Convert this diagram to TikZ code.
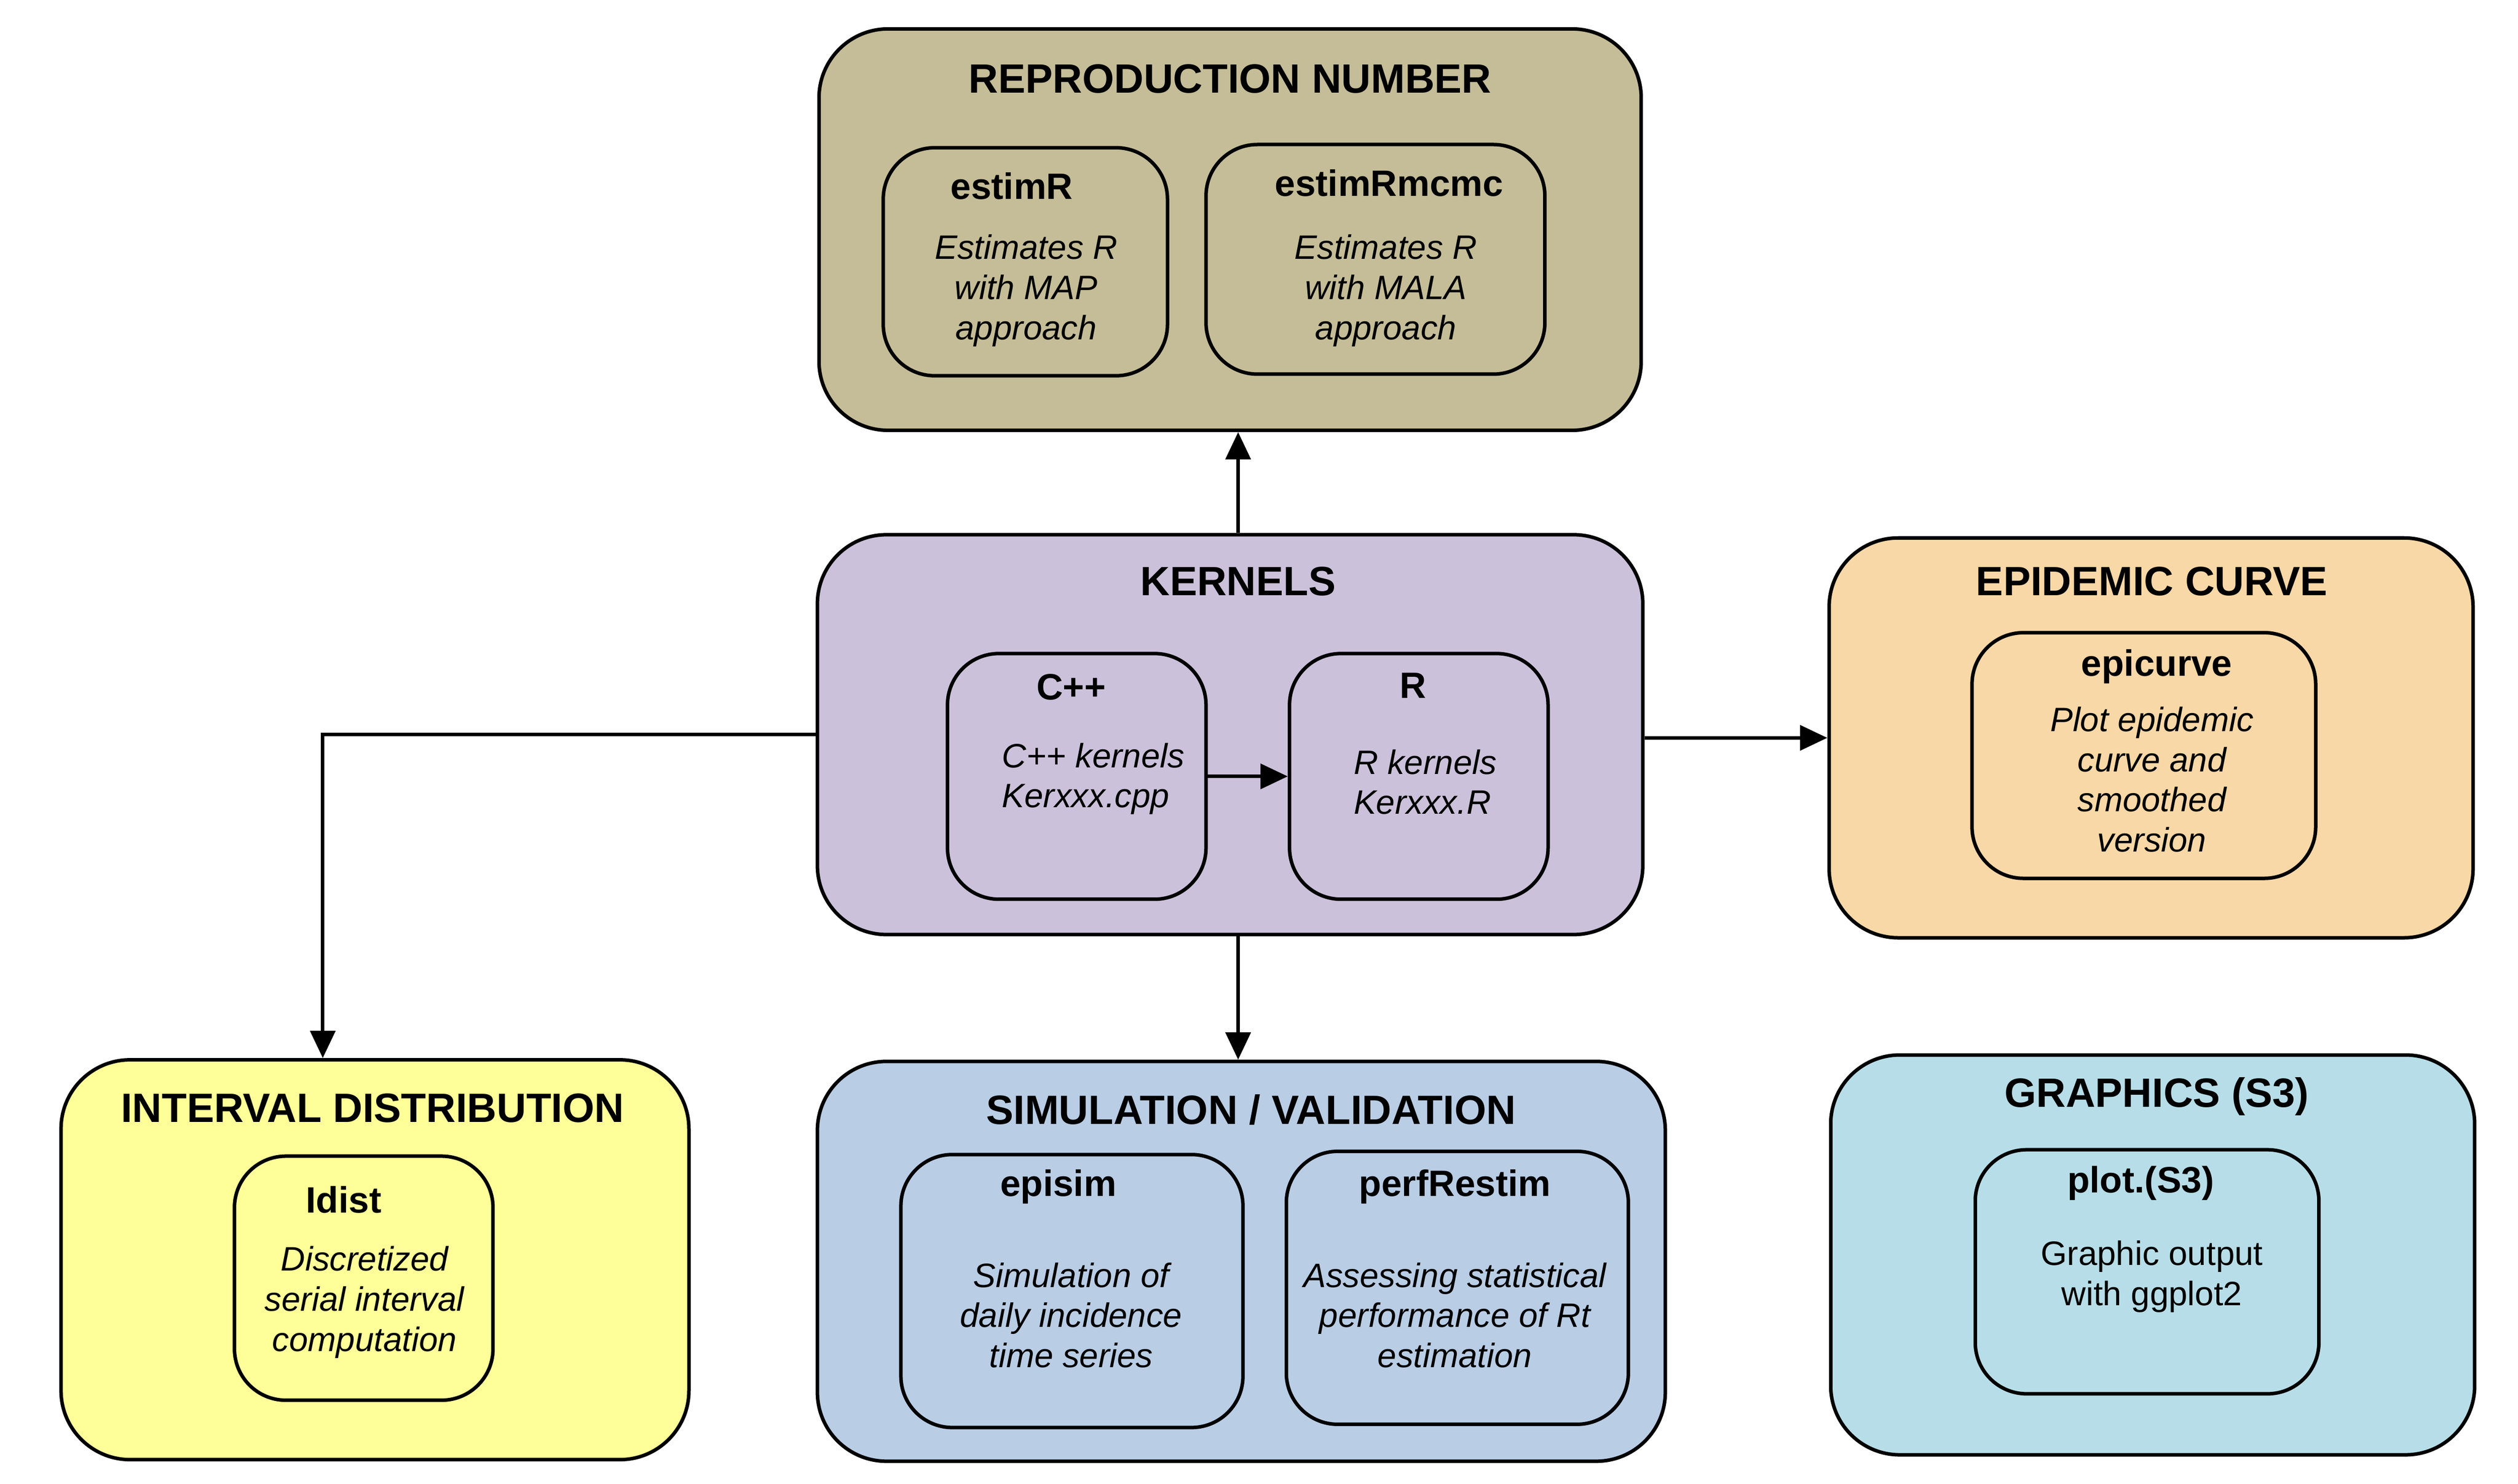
\documentclass[tikz,border=0pt]{standalone}
\usepackage{fontspec}
\setmainfont{Liberation Sans}
\usetikzlibrary{arrows.meta,positioning}

\definecolor{reprocol}{HTML}{C4BD97}
\definecolor{kernelcol}{HTML}{CCC1DA}
\definecolor{epicol}{HTML}{F8D8A6}
\definecolor{intervalcol}{HTML}{FFFF99}
\definecolor{simcol}{HTML}{B9CDE5}
\definecolor{graphcol}{HTML}{B7DEE8}

\begin{document}
\begin{tikzpicture}[>={Triangle[length=3.4mm,width=3.1mm]},line width=1.25pt]
	\useasboundingbox (0,0) rectangle (31.36,-18.48);
	\tikzset{group/.style={draw,rounded corners=8.6mm,inner sep=0pt}}
	\tikzset{func/.style={draw,rounded corners=6.4mm,inner sep=0pt,minimum width=#1}}
	\tikzset{grouptitle/.style={font=\fontsize{14.5}{17}\selectfont\bfseries}}
	\tikzset{functitle/.style={font=\fontsize{13}{15}\selectfont\bfseries}}
	\tikzset{funcdesc/.style={font=\fontsize{12}{14.2}\selectfont\itshape,align=center}}
	
	% groups
	\node[group,fill=reprocol,minimum width=10.24cm,minimum height=5cm] (repro) at (15.32,-2.86) {};
	\node[group,fill=kernelcol,minimum width=10.28cm,minimum height=4.98cm] (kernels) at (15.32,-9.15) {};
	\node[group,fill=epicol,minimum width=8.02cm,minimum height=4.98cm] (epi) at (26.79,-9.19) {};
	\node[group,fill=intervalcol,minimum width=7.82cm,minimum height=4.98cm] (interval) at (4.67,-15.69) {};
	\node[group,fill=simcol,minimum width=10.56cm,minimum height=4.98cm] (sim) at (15.46,-15.71) {};
	\node[group,fill=graphcol,minimum width=8.02cm,minimum height=4.98cm] (graph) at (26.81,-15.63) {};
	
	% functions
	\node[func=3.54cm,minimum height=2.84cm] (estimR) at (12.77,-3.26) {};
	\node[func=4.22cm,minimum height=2.86cm] (estimRmcmc) at (17.13,-3.23) {};
	\node[func=3.22cm,minimum height=3.06cm] (cpp) at (13.41,-9.67) {};
	\node[func=3.22cm,minimum height=3.06cm] (rker) at (17.67,-9.67) {};
	\node[func=4.28cm,minimum height=3.06cm] (epicurve) at (26.70,-9.41) {};
	\node[func=3.22cm,minimum height=3.04cm] (Idist) at (4.53,-15.92) {};
	\node[func=4.26cm,minimum height=3.40cm] (episim) at (13.35,-16.08) {};
	\node[func=4.26cm,minimum height=3.40cm] (perfRestim) at (18.15,-16.04) {};
	\node[func=4.28cm,minimum height=3.04cm] (plotS3) at (26.74,-15.84) {};
	
	% texts
	\node[grouptitle] (reprotitle) at (15.32,-0.98) {REPRODUCTION NUMBER};
	\node[functitle] (estimRtitle) at (12.60,-2.32) {estimR};
	\node[funcdesc] (estimRdesc) at (12.78,-3.62) {Estimates R\\with MAP\\approach};
	\node[functitle] (estimRmcmctitle) at (17.30,-2.28) {estimRmcmc};
	\node[funcdesc] (estimRmcmcdesc) at (17.26,-3.62) {Estimates R\\with MALA\\approach};
	
	\node[grouptitle] (kerneltitle) at (15.42,-7.24) {KERNELS};
	\node[functitle] (cpptitle) at (13.34,-8.56) {C++};
	\node[funcdesc,align=left,anchor=west] (cppdesc) at (12.34,-9.70) {C++ kernels\\Kerxxx.cpp};
	\node[functitle] (rkertitle) at (17.60,-8.54) {R};
	\node[funcdesc,align=left,anchor=west] (rkerdesc) at (16.72,-9.74) {R kernels\\Kerxxx.R};
	
	\node[grouptitle] (epititle) at (26.80,-7.24) {EPIDEMIC CURVE};
	\node[functitle] (epicurvetitle) at (26.86,-8.30) {epicurve};
	\node[funcdesc] (epicurvedesc) at (26.80,-9.71) {Plot epidemic\\curve and\\smoothed\\version};
	
	\node[grouptitle] (intervaltitle) at (4.64,-13.80) {INTERVAL DISTRIBUTION};
	\node[functitle] (Idisttitle) at (4.28,-14.94) {Idist};
	\node[funcdesc] (Idistdesc) at (4.54,-16.22) {Discretized\\serial interval\\computation};
	
	\node[grouptitle] (simtitle) at (15.58,-13.82) {SIMULATION / VALIDATION};
	\node[functitle] (episimtitle) at (13.18,-14.78) {episim};
	\node[funcdesc] (episimdesc) at (13.34,-16.38) {Simulation of\\daily incidence\\time series};
	\node[functitle] (perfRestimtitle) at (18.12,-14.78) {perfRestim};
	\node[funcdesc] (perfRestimdesc) at (18.12,-16.38) {Assessing statistical\\performance of Rt\\estimation};
	
	\node[grouptitle] (graphtitle) at (26.86,-13.66) {GRAPHICS (S3)};
	\node[functitle] (plotS3title) at (26.66,-14.74) {plot.(S3)};
	\node[funcdesc,font=\fontsize{12}{14.2}\selectfont] (plotS3desc) at (26.80,-15.90) {Graphic output\\with ggplot2};
	
	% links
	\draw[->] ([xshift=1mm]kernels.north) -- ([xshift=1mm]repro.south);
	\draw[->] ([xshift=1mm]kernels.south) -- ([xshift=1mm]kernels.south |- sim.north);
	\draw[->] (kernels.east |- epi.west) -- (epi.west);
	\draw[->] (kernels.west) -| ([xshift=-6.5mm]interval.north);
	\draw[->] (cpp) -- (rker);
\end{tikzpicture}
\end{document}
